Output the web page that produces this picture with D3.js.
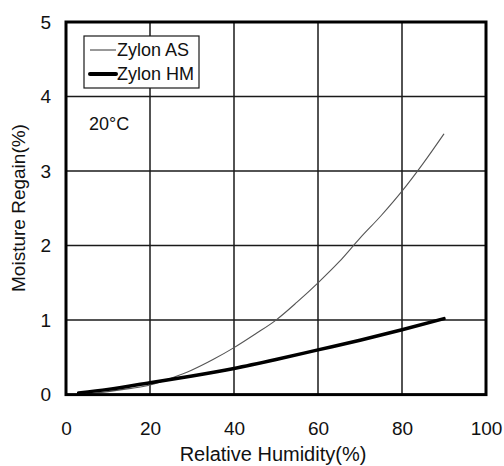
<!DOCTYPE html>
<html>
<head>
<meta charset="utf-8">
<script src="https://cdn.jsdelivr.net/npm/d3@7"></script>
<style>
  body { margin: 0; background: #fff; }
  text { font-family: "Liberation Sans", Arial, sans-serif; fill: #111; }
</style>
</head>
<body>
<svg id="chart" width="504" height="466"></svg>
<script>
// values
var humidityAS = [5, 10, 15, 20, 25, 30, 35, 40, 45, 50, 55, 60, 65, 70, 75, 80, 85, 90];
var regainAS   = [0.01, 0.04, 0.08, 0.13, 0.22, 0.33, 0.47, 0.63, 0.81, 1.0, 1.24, 1.5, 1.78, 2.1, 2.4, 2.73, 3.1, 3.5];
var humidityHM = [3, 10, 20, 30, 40, 50, 60, 70, 80, 90];
var regainHM   = [0.02, 0.07, 0.16, 0.25, 0.35, 0.47, 0.60, 0.73, 0.87, 1.02];
var xTicks = [0, 20, 40, 60, 80, 100];
var yTicks = [0, 1, 2, 3, 4, 5];
var seriesNames = ["Zylon AS", "Zylon HM"];

var svg = d3.select("#chart");
var margin = {top: 22, right: 18, bottom: 72, left: 66};
var width = 486 - margin.left;
var height = 394.6 - margin.top;

var x = d3.scaleLinear().domain([0, 100]).range([0, width]);
var y = d3.scaleLinear().domain([0, 5]).range([height, 0]);

var g = svg.append("g")
    .attr("transform", "translate(" + margin.left + "," + margin.top + ")");

// grid
g.selectAll(".vgrid")
    .data(xTicks.slice(1, -1))
    .enter().append("line")
    .attr("x1", function(d) { return x(d); })
    .attr("x2", function(d) { return x(d); })
    .attr("y1", 0).attr("y2", height)
    .attr("stroke", "#1a1a1a").attr("stroke-width", 1.5);

g.selectAll(".hgrid")
    .data(yTicks.slice(1, -1))
    .enter().append("line")
    .attr("y1", function(d) { return y(d); })
    .attr("y2", function(d) { return y(d); })
    .attr("x1", 0).attr("x2", width)
    .attr("stroke", "#1a1a1a").attr("stroke-width", 1.5);

// axes labels (no tick marks)
var xAxis = g.append("g")
    .attr("transform", "translate(0," + height + ")")
    .call(d3.axisBottom(x).tickValues(xTicks).tickFormat(d3.format("d")).tickSize(0).tickPadding(27));
xAxis.select(".domain").remove();
xAxis.selectAll("text").style("font-size", "19px").attr("font-family", null);

var yAxis = g.append("g")
    .call(d3.axisLeft(y).tickValues(yTicks).tickFormat(d3.format("d")).tickSize(0).tickPadding(15));
yAxis.select(".domain").remove();
yAxis.selectAll("text").style("font-size", "19px").attr("font-family", null);

// curves
var line = d3.line()
    .x(function(d) { return x(d[0]); })
    .y(function(d) { return y(d[1]); })
    .curve(d3.curveMonotoneX);

g.append("path")
    .datum(d3.zip(humidityAS, regainAS))
    .attr("d", line)
    .attr("fill", "none")
    .attr("stroke", "#555")
    .attr("stroke-width", 1.1);

g.append("path")
    .datum(d3.zip(humidityHM, regainHM))
    .attr("d", line)
    .attr("fill", "none")
    .attr("stroke", "#000")
    .attr("stroke-width", 3.5)
    .attr("stroke-linecap", "round");

// frame
g.append("rect")
    .attr("x", 0).attr("y", 0)
    .attr("width", width).attr("height", height)
    .attr("fill", "none")
    .attr("stroke", "#000")
    .attr("stroke-width", 3);

// legend
var legend = g.append("g").attr("transform", "translate(18,14)");
legend.append("rect")
    .attr("x", 0).attr("y", 0)
    .attr("width", 115).attr("height", 52)
    .attr("fill", "#fff")
    .attr("stroke", "#1a1a1a").attr("stroke-width", 1.2);

var rows = legend.selectAll(".row")
    .data(seriesNames)
    .enter().append("g")
    .attr("transform", function(d, i) { return "translate(0," + (14 + i * 24) + ")"; });

rows.append("line")
    .attr("x1", 6).attr("x2", 32)
    .attr("y1", 0).attr("y2", 0)
    .attr("stroke", function(d, i) { return i ? "#000" : "#333"; })
    .attr("stroke-width", function(d, i) { return i ? 4 : 1; })
    .attr("stroke-linecap", function(d, i) { return i ? "round" : "butt"; });

rows.append("text")
    .attr("x", 33)
    .attr("dy", "0.35em")
    .style("font-size", "18px")
    .text(function(d) { return d; });

g.append("text")
    .attr("x", 23)
    .attr("y", 108)
    .style("font-size", "18px")
    .text("20\u00B0C");

// axis titles
svg.append("text")
    .attr("x", margin.left + width / 2 - 3)
    .attr("y", 461)
    .attr("text-anchor", "middle")
    .style("font-size", "20px")
    .text("Relative Humidity(%)");

svg.append("text")
    .attr("transform", "translate(25,208) rotate(-90)")
    .attr("text-anchor", "middle")
    .style("font-size", "19px")
    .text("Moisture Regain(%)");
</script>
</body>
</html>
